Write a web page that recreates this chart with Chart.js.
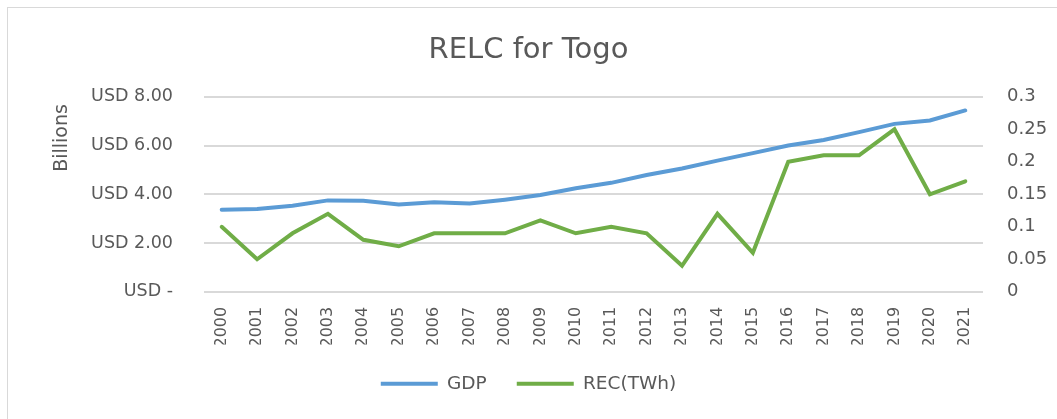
<!DOCTYPE html>
<html>
<head>
<meta charset="utf-8">
<script src="https://cdn.jsdelivr.net/npm/chart.js@4/dist/chart.umd.min.js"></script>
<style>
  html, body { margin: 0; padding: 0; background: #fff; }
  #wrap { width: 1057px; height: 419px; }
</style>
</head>
<body>
<div id="wrap"><canvas id="relcChart" width="1057" height="419"></canvas></div>
<script>
const years = ['2000', '2001', '2002', '2003', '2004', '2005', '2006', '2007', '2008', '2009', '2010',
               '2011', '2012', '2013', '2014', '2015', '2016', '2017', '2018', '2019', '2020', '2021'];
// GDP in billions of USD
const gdp = [3.37, 3.40, 3.53, 3.75, 3.73, 3.58, 3.67, 3.62, 3.78, 3.97, 4.25,
             4.47, 4.79, 5.06, 5.38, 5.69, 6.00, 6.23, 6.55, 6.89, 7.03, 7.44];
// renewable electricity consumption, TWh
const rec = [0.10, 0.05, 0.09, 0.12, 0.08, 0.07, 0.09, 0.09, 0.09, 0.11, 0.09,
             0.10, 0.09, 0.04, 0.12, 0.06, 0.20, 0.21, 0.21, 0.25, 0.15, 0.17];
const gdpTicks = [0, 2, 4, 6, 8];
const recTicks = [0, 0.05, 0.1, 0.15, 0.2, 0.25, 0.3];

const FONT = "'DejaVu Sans', sans-serif";
const TEXT = '#595959';
const GRID = '#d9d9d9';

// frame + "Billions" unit label
const extras = {
    id: 'extras',
    beforeDraw(chart) {
        const c = chart.ctx;
        c.save();
        c.strokeStyle = GRID;
        c.lineWidth = 1;
        c.strokeRect(7.5, 7.5, chart.width + 10, chart.height + 10);
        c.restore();
    },
    afterDraw(chart) {
        const c = chart.ctx;
        c.save();
        c.translate(62, 138);
        c.rotate(-Math.PI / 2);
        c.font = '19px ' + FONT;
        c.fillStyle = TEXT;
        c.textAlign = 'center';
        c.textBaseline = 'middle';
        c.fillText('Billions', 0, 0);
        c.restore();
    }
};

new Chart(document.getElementById('relcChart'), {
    type: 'line',
    data: {
        labels: years,
        datasets: [{
            label: 'GDP',
            data: gdp,
            yAxisID: 'y',
            borderColor: '#5b9bd5',
            backgroundColor: '#5b9bd5',
            borderWidth: 4,
            borderCapStyle: 'round',
            pointRadius: 0,
            tension: 0
        }, {
            label: 'REC(TWh)',
            data: rec,
            yAxisID: 'y1',
            borderColor: '#70ad47',
            backgroundColor: '#70ad47',
            borderWidth: 4,
            borderCapStyle: 'round',
            pointRadius: 0,
            tension: 0
        }]
    },
    options: {
        responsive: false,
        animation: false,
        layout: { padding: { left: 0, right: 0, top: 0, bottom: 16 } },
        plugins: {
            title: {
                display: true,
                text: 'RELC for Togo',
                color: TEXT,
                font: { family: FONT, size: 29, weight: 'normal' },
                padding: { top: 33, bottom: 29 }
            },
            legend: {
                position: 'bottom',
                labels: {
                    color: TEXT,
                    font: { family: FONT, size: 18.5 },
                    usePointStyle: true,
                    pointStyle: 'line',
                    pointStyleWidth: 57,
                    boxHeight: 18,
                    padding: 30
                }
            },
            tooltip: { enabled: false }
        },
        scales: {
            x: {
                offset: true,
                grid: { display: false, drawTicks: false },
                border: { display: false },
                afterFit: s => { s.height -= 18; },
                ticks: {
                    color: TEXT,
                    font: { family: FONT, size: 16 },
                    minRotation: 90,
                    maxRotation: 90,
                    padding: 15,
                    autoSkip: false
                }
            },
            y: {
                position: 'left',
                min: 0,
                max: gdpTicks[gdpTicks.length - 1],
                afterBuildTicks: s => { s.ticks = gdpTicks.map(v => ({ value: v })); },
                afterFit: s => { s.width = 204; },
                grid: { color: GRID, lineWidth: 2, drawTicks: false },
                border: { display: false },
                ticks: {
                    color: TEXT,
                    font: { family: FONT, size: 17.5 },
                    padding: 31,
                    callback: v => v === 0 ? 'USD -' : 'USD ' + v.toFixed(2)
                }
            },
            y1: {
                position: 'right',
                min: 0,
                max: recTicks[recTicks.length - 1],
                afterBuildTicks: s => { s.ticks = recTicks.map(v => ({ value: v })); },
                afterFit: s => { s.width = 74; },
                grid: { display: false, drawTicks: false },
                border: { display: false },
                ticks: {
                    color: TEXT,
                    font: { family: FONT, size: 18 },
                    padding: 24,
                    callback: v => String(+v.toFixed(2))
                }
            }
        }
    },
    plugins: [extras]
});
</script>
</body>
</html>
